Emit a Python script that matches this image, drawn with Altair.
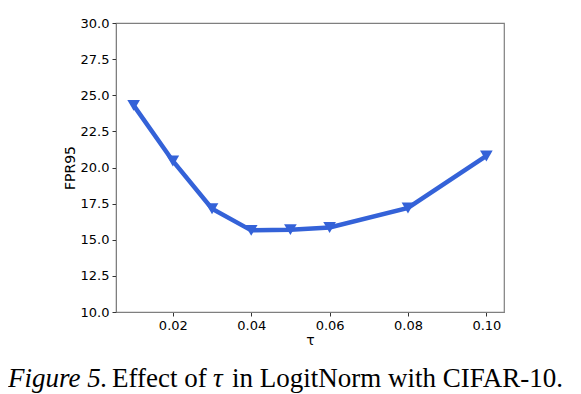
import altair as alt
import pandas as pd

tau = [0.01, 0.02, 0.03, 0.04, 0.05, 0.06, 0.08, 0.10]
fpr95 = [24.3, 20.45, 17.15, 15.65, 15.7, 15.85, 17.2, 20.8]
x_ticks = [0.02, 0.04, 0.06, 0.08, 0.10]
y_ticks = [10.0, 12.5, 15.0, 17.5, 20.0, 22.5, 25.0, 27.5, 30.0]
caption_parts = ["Figure 5.", "Effect of", "τ", "in LogitNorm with CIFAR-10."]
caption_italic = [True, False, True, False]

df = pd.DataFrame({"tau": tau, "fpr": fpr95})

BLUE = "#3462d8"
AXIS_GRAY = "#7f7f7f"

common = dict(grid=False, labelFont="DejaVu Sans", labelFontSize=13, labelColor="#000",
              titleFont="DejaVu Sans", titleFontSize=14, titleFontWeight="normal",
              titleColor="#000", domainColor=AXIS_GRAY, tickColor="#333", tickSize=4,
              labelPadding=3, labelOverlap=False)

x_enc = alt.X("tau:Q", scale=alt.Scale(domain=[0.0055, 0.1045], nice=False, zero=False),
              axis=alt.Axis(values=x_ticks, format=".2f", title="τ", titlePadding=1, **common))
y_enc = alt.Y("fpr:Q", scale=alt.Scale(domain=[10, 30], nice=False, zero=False),
              axis=alt.Axis(values=y_ticks, format=".1f", title="FPR95", titlePadding=3, **common))

base = alt.Chart(df)
line = base.mark_line(color=BLUE, strokeWidth=4.5).encode(x=x_enc, y=y_enc)
pts = base.mark_point(shape="triangle-down", filled=True, color=BLUE, size=160, opacity=1).encode(
    x=x_enc, y=y_enc)

# left edges of the caption pieces, in pixels from the plot's left edge
part_left = [-108, -4, 97, 116]

caps = []
for part, ital, left in zip(caption_parts, caption_italic, part_left):
    caps.append(alt.Chart(pd.DataFrame({"t": [part]})).mark_text(
        font="Liberation Serif", fontSize=27,
        fontStyle="italic" if ital else "normal", align="left",
        baseline="alphabetic", color="#000").encode(
        text="t:N", x=alt.value(left), y=alt.value(364)))

chart = alt.layer(line, pts, *caps).properties(
    width=388, height=289,
    autosize=alt.AutoSizeParams(type="none"),
    padding={"left": 108, "top": 15, "right": 69, "bottom": 82},
).configure_view(stroke=AXIS_GRAY, strokeWidth=1.2)

chart.save("out.html", embed_options={"renderer": "svg", "actions": False})
